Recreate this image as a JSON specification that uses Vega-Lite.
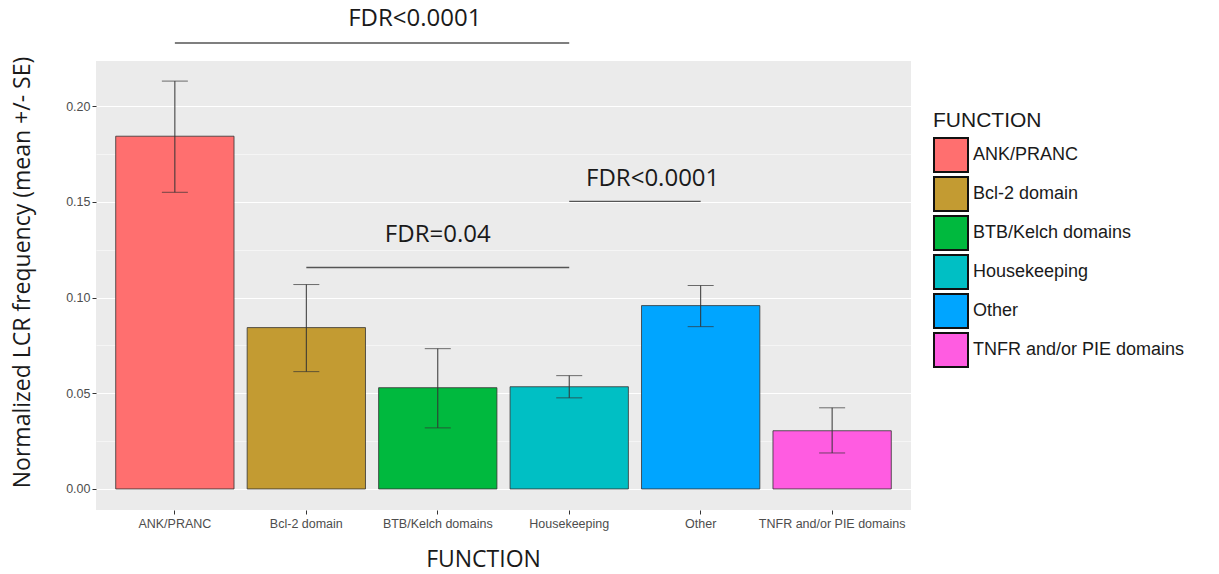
{
  "$schema": "https://vega.github.io/schema/vega-lite/v6.json",
  "autosize": {"type": "none"},
  "padding": {"left": 96, "top": 61, "right": 308, "bottom": 64},
  "width": 815,
  "height": 449,
  "background": "white",
  "config": {
    "view": {"fill": "#EBEBEB", "stroke": null},
    "axis": {"domain": false, "gridColor": "white", "labelFont": "Liberation Sans", "labelFontSize": 12.5, "labelColor": "#4D4D4D", "tickColor": "#333333", "tickSize": 4, "titleFont": "Open Sans", "titleFontSize": 23, "titleFontWeight": "normal", "titleColor": "#1A1A1A"}
  },
  "datasets": {
    "bars": [
      {"function": "ANK/PRANC", "mean": 0.1843, "lo": 0.155, "hi": 0.2131},
      {"function": "Bcl-2 domain", "mean": 0.0843, "lo": 0.0613, "hi": 0.1068},
      {"function": "BTB/Kelch domains", "mean": 0.0529, "lo": 0.0319, "hi": 0.0733},
      {"function": "Housekeeping", "mean": 0.0534, "lo": 0.0476, "hi": 0.0592},
      {"function": "Other", "mean": 0.0958, "lo": 0.0848, "hi": 0.1063},
      {"function": "TNFR and/or PIE domains", "mean": 0.0304, "lo": 0.0188, "hi": 0.0424}
    ],
    "notes": [
      {"id": 1, "from": "ANK/PRANC", "to": "Housekeeping", "at": "BTB/Kelch domains", "line": 0.233, "ty": 0.2455, "label": "FDR<0.0001"},
      {"id": 2, "from": "Housekeeping", "to": "Other", "at": "Other", "line": 0.1503, "ty": 0.1618, "label": "FDR<0.0001"},
      {"id": 3, "from": "Bcl-2 domain", "to": "Housekeeping", "at": "BTB/Kelch domains", "line": 0.1157, "ty": 0.1325, "label": "FDR=0.04"}
    ]
  },
  "encoding": {
    "x": {"field": "function", "type": "nominal",
      "scale": {"domain": ["ANK/PRANC", "Bcl-2 domain", "BTB/Kelch domains", "Housekeeping", "Other", "TNFR and/or PIE domains"], "paddingInner": 0.1, "paddingOuter": 0.15},
      "axis": {"title": "FUNCTION", "labelAngle": 0, "labelPadding": 3, "bandPosition": 0.5, "titlePadding": 19, "titleX": 387}}
  },
  "layer": [
    {
      "data": {"name": "bars"},
      "mark": {"type": "bar", "stroke": "#333333", "strokeWidth": 1, "strokeOpacity": 0.8},
      "encoding": {
        "y": {"field": "mean", "type": "quantitative",
          "scale": {"domain": [-0.011, 0.2236], "nice": false, "zero": false},
          "axis": {"title": "Normalized LCR frequency (mean +/- SE)", "titlePadding": 31, "titleY": 211,
            "values": [0, 0.025, 0.05, 0.075, 0.1, 0.125, 0.15, 0.175, 0.2],
            "labelExpr": "round(datum.value*1000) % 50 == 0 ? format(datum.value, '.2f') : ''",
            "gridWidth": {"condition": {"test": "round(datum.value*1000) % 50 != 0", "value": 0.5}, "value": 1.1},
            "tickOpacity": {"condition": {"test": "round(datum.value*1000) % 50 != 0", "value": 0}, "value": 1}}},
        "color": {"field": "function", "type": "nominal",
          "scale": {"domain": ["ANK/PRANC", "Bcl-2 domain", "BTB/Kelch domains", "Housekeeping", "Other", "TNFR and/or PIE domains"], "range": ["#FF6F6F", "#C39B32", "#00B93E", "#00BFC4", "#00A5FF", "#FF5CE1"]},
          "legend": {"title": "FUNCTION", "orient": "none", "legendX": 837, "legendY": 49,
            "titleFont": "Liberation Sans", "titleFontSize": 21, "titleFontWeight": "normal", "titleColor": "#1A1A1A", "titlePadding": 6,
            "labelFont": "Liberation Sans", "labelFontSize": 18, "labelColor": "#1A1A1A", "labelOffset": 4, "labelLimit": 300,
            "symbolType": "square", "symbolSize": 1156, "symbolStrokeColor": "#111111", "symbolStrokeWidth": 2, "symbolOpacity": 1, "symbolFillOpacity": 1,
            "rowPadding": -4, "padding": 0}}
      }
    },
    {
      "data": {"name": "bars"},
      "mark": {"type": "rule", "color": "#333333", "strokeWidth": 1},
      "encoding": {"y": {"field": "lo", "type": "quantitative"}, "y2": {"field": "hi"}}
    },
    {
      "data": {"name": "bars"},
      "mark": {"type": "tick", "color": "#333333", "thickness": 1, "size": 26},
      "encoding": {"y": {"field": "lo", "type": "quantitative"}}
    },
    {
      "data": {"name": "bars"},
      "mark": {"type": "tick", "color": "#333333", "thickness": 1, "size": 26},
      "encoding": {"y": {"field": "hi", "type": "quantitative"}}
    },
    {
      "data": {"name": "notes"},
      "mark": {"type": "rule", "color": "#555555", "strokeWidth": 1.3},
      "encoding": {"x": {"field": "from", "type": "nominal"}, "x2": {"field": "to"}, "y": {"field": "line", "type": "quantitative"}}
    },
    {
      "data": {"name": "notes"},
      "transform": [{"filter": "datum.id == 1"}],
      "mark": {"type": "text", "font": "Open Sans", "fontSize": 24, "color": "#1A1A1A", "baseline": "middle", "dx": -23},
      "encoding": {"x": {"field": "at", "type": "nominal"}, "y": {"field": "ty", "type": "quantitative"}, "text": {"field": "label"}}
    },
    {
      "data": {"name": "notes"},
      "transform": [{"filter": "datum.id == 2"}],
      "mark": {"type": "text", "font": "Open Sans", "fontSize": 24, "color": "#1A1A1A", "baseline": "middle", "dx": -48},
      "encoding": {"x": {"field": "at", "type": "nominal"}, "y": {"field": "ty", "type": "quantitative"}, "text": {"field": "label"}}
    },
    {
      "data": {"name": "notes"},
      "transform": [{"filter": "datum.id == 3"}],
      "mark": {"type": "text", "font": "Open Sans", "fontSize": 24, "color": "#1A1A1A", "baseline": "middle"},
      "encoding": {"x": {"field": "at", "type": "nominal"}, "y": {"field": "ty", "type": "quantitative"}, "text": {"field": "label"}}
    }
  ]
}
